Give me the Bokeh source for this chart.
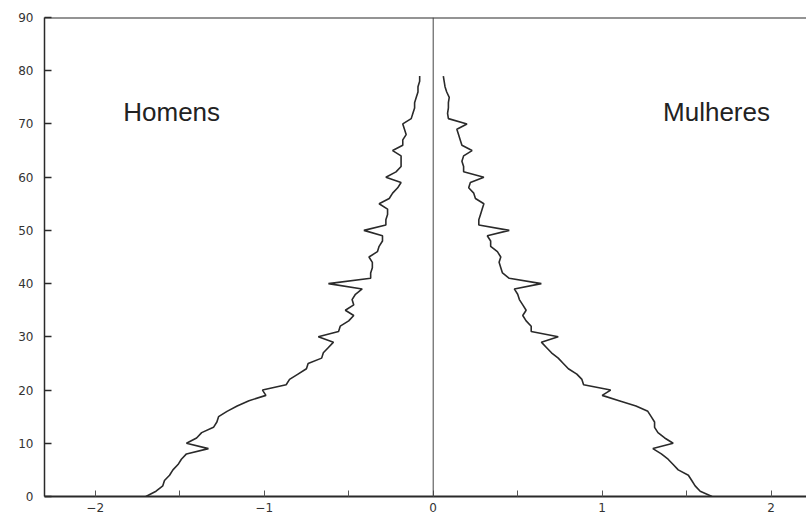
from bokeh.plotting import figure
from bokeh.models import Range1d, Span, Label, FixedTicker, ColumnDataSource
from bokeh.embed import file_html
from bokeh.resources import INLINE

ages = list(range(0, 80))

homens = [-1.70, -1.64, -1.60, -1.59, -1.56, -1.54, -1.51, -1.49, -1.46, -1.33,
          -1.46, -1.40, -1.37, -1.30, -1.28, -1.27, -1.22, -1.16, -1.09, -0.99,
          -1.01, -0.87, -0.85, -0.80, -0.75, -0.74, -0.66, -0.65, -0.62, -0.59,
          -0.68, -0.56, -0.55, -0.50, -0.47, -0.52, -0.47, -0.48, -0.46, -0.42,
          -0.62, -0.37, -0.37, -0.36, -0.36, -0.38, -0.33, -0.32, -0.30, -0.30,
          -0.41, -0.28, -0.28, -0.27, -0.27, -0.32, -0.26, -0.24, -0.21, -0.19,
          -0.28, -0.22, -0.19, -0.19, -0.19, -0.24, -0.18, -0.18, -0.16, -0.17,
          -0.18, -0.13, -0.12, -0.11, -0.11, -0.10, -0.09, -0.09, -0.08, -0.08]

mulheres = [1.65, 1.58, 1.55, 1.53, 1.51, 1.45, 1.42, 1.39, 1.35, 1.30,
            1.42, 1.37, 1.33, 1.31, 1.31, 1.29, 1.27, 1.20, 1.10, 1.00,
            1.05, 0.89, 0.88, 0.85, 0.80, 0.77, 0.74, 0.70, 0.67, 0.64,
            0.74, 0.58, 0.58, 0.55, 0.53, 0.55, 0.53, 0.51, 0.50, 0.48,
            0.64, 0.45, 0.41, 0.40, 0.39, 0.40, 0.38, 0.34, 0.34, 0.32,
            0.45, 0.27, 0.27, 0.28, 0.29, 0.30, 0.25, 0.24, 0.21, 0.22,
            0.30, 0.18, 0.18, 0.17, 0.18, 0.23, 0.17, 0.16, 0.15, 0.14,
            0.20, 0.09, 0.085, 0.09, 0.09, 0.095, 0.08, 0.07, 0.065, 0.06]

x_ticks = [-2, -1, 0, 1, 2]
x_minor_ticks = [-1.5, -0.5, 0.5, 1.5]
y_ticks = [0, 10, 20, 30, 40, 50, 60, 70, 80, 90]
label_homens = "Homens"
label_mulheres = "Mulheres"

src = ColumnDataSource(dict(age=ages, homens=homens, mulheres=mulheres))

p = figure(frame_width=762, frame_height=479, output_backend="svg",
           toolbar_location=None,
           x_range=Range1d(-2.30, 2.209), y_range=Range1d(0, 90),
           min_border_left=44, min_border_right=0, min_border_top=17,
           min_border_bottom=22)

p.background_fill_color = "white"
p.border_fill_color = "white"
p.outline_line_color = None
p.grid.visible = False

ink = "#2a2a2a"

# x axis
xa = p.xaxis[0]
xa.ticker = FixedTicker(ticks=x_ticks, minor_ticks=x_minor_ticks)
xa.major_label_overrides = {-2: "\u22122", -1: "\u22121"}
xa.axis_line_width = 2
xa.axis_line_color = ink
xa.major_tick_in = 6
xa.major_tick_out = 0
xa.minor_tick_in = 6
xa.minor_tick_out = 0
xa.major_tick_line_color = "#555555"
xa.minor_tick_line_color = "#555555"
xa.major_label_standoff = 6
xa.major_label_text_font = "DejaVu Sans"
xa.major_label_text_font_size = "12px"
xa.major_label_text_color = "#333333"

# y axis
ya = p.yaxis[0]
ya.ticker = FixedTicker(ticks=y_ticks)
ya.axis_line_width = 1.5
ya.axis_line_color = ink
ya.major_tick_in = 7
ya.major_tick_out = 0
ya.minor_tick_line_color = None
ya.major_tick_line_width = 1.5
ya.major_tick_line_color = ink
ya.major_label_standoff = 11
ya.major_label_text_font = "DejaVu Sans"
ya.major_label_text_font_size = "12px"
ya.major_label_text_color = "#333333"

# top border and centre line
p.add_layout(Span(location=90, dimension="width", line_color=ink, line_width=2))
p.add_layout(Span(location=0, dimension="height", line_color="#444444", line_width=1))

p.line(x="homens", y="age", source=src, line_color=ink, line_width=1.6)
p.line(x="mulheres", y="age", source=src, line_color=ink, line_width=1.6)

p.add_layout(Label(x=-1.834, y=72.2, text=label_homens, text_align="left",
                   text_baseline="middle", text_font="Liberation Sans",
                   text_font_size="26px", text_color="#222222"))
p.add_layout(Label(x=1.36, y=72.2, text=label_mulheres, text_align="left",
                   text_baseline="middle", text_font="Liberation Sans",
                   text_font_size="26px", text_color="#222222"))

open("out.html", "w").write(file_html(p, INLINE))
